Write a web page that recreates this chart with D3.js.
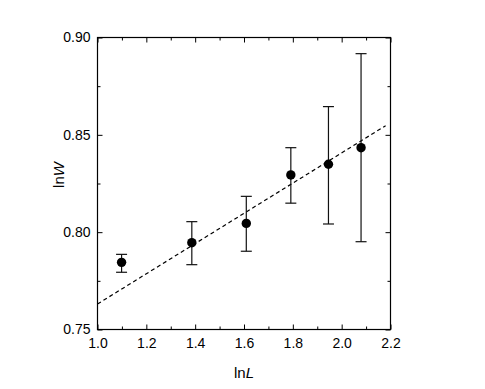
<!DOCTYPE html>
<html>
<head>
<meta charset="utf-8">
<script src="https://cdn.jsdelivr.net/npm/d3@7"></script>
<style>
  body { margin: 0; background: #fff; }
  text { font-family: "Liberation Sans", Arial, sans-serif; }
</style>
</head>
<body>
<div class="wrap"></div>
<script>
var width = 485, height = 389;

// data
var lnL   = [1.0986, 1.3863, 1.6094, 1.7918, 1.9459, 2.0794];
var lnW   = [0.7845, 0.7946, 0.8045, 0.8294, 0.8349, 0.8434];
var errLo = [0.7794, 0.7833, 0.7902, 0.8149, 0.8042, 0.7951];
var errHi = [0.7886, 0.8054, 0.8184, 0.8434, 0.8645, 0.8917];
var fitX  = [1.0, 2.18];
var fitY  = [0.7631, 0.8547];
var xTicks = [1.0, 1.2, 1.4, 1.6, 1.8, 2.0, 2.2];
var yTicks = [0.75, 0.80, 0.85, 0.90];

var plot = {left: 97.5, right: 390.5, top: 37.5, bottom: 329.5};

var svg = d3.select(".wrap").append("svg")
    .attr("width", width)
    .attr("height", height);

var x = d3.scaleLinear().domain([1.0, 2.2]).range([plot.left, plot.right]);
var y = d3.scaleLinear().domain([0.75, 0.90]).range([plot.bottom, plot.top]);

var xMinor = d3.range(1.1, 2.2, 0.2);
var yMinor = d3.range(0.775, 0.9, 0.05);

function cleanAxis(g) {
    g.select(".domain").remove();
    g.selectAll(".tick line").attr("stroke", "#000");
    g.selectAll(".tick text").attr("fill", "#000").style("font-size", "14px");
}

// bottom
svg.append("g")
    .attr("transform", "translate(0," + plot.bottom + ")")
    .call(d3.axisBottom(x).tickValues(xTicks).tickFormat(d3.format(".1f")).tickSize(-5).tickPadding(9))
    .call(cleanAxis);
svg.append("g")
    .attr("transform", "translate(0," + plot.bottom + ")")
    .call(d3.axisBottom(x).tickValues(xMinor).tickFormat("").tickSize(-3))
    .call(cleanAxis);
// top
svg.append("g")
    .attr("transform", "translate(0," + plot.top + ")")
    .call(d3.axisTop(x).tickValues(xTicks).tickFormat("").tickSize(-5))
    .call(cleanAxis);
svg.append("g")
    .attr("transform", "translate(0," + plot.top + ")")
    .call(d3.axisTop(x).tickValues(xMinor).tickFormat("").tickSize(-3))
    .call(cleanAxis);
// left
svg.append("g")
    .attr("transform", "translate(" + plot.left + ",0)")
    .call(d3.axisLeft(y).tickValues(yTicks).tickFormat(d3.format(".2f")).tickSize(-5).tickPadding(7))
    .call(cleanAxis);
svg.append("g")
    .attr("transform", "translate(" + plot.left + ",0)")
    .call(d3.axisLeft(y).tickValues(yMinor).tickFormat("").tickSize(-3))
    .call(cleanAxis);
// right
svg.append("g")
    .attr("transform", "translate(" + plot.right + ",0)")
    .call(d3.axisRight(y).tickValues(yTicks).tickFormat("").tickSize(-5))
    .call(cleanAxis);
svg.append("g")
    .attr("transform", "translate(" + plot.right + ",0)")
    .call(d3.axisRight(y).tickValues(yMinor).tickFormat("").tickSize(-3))
    .call(cleanAxis);

// frame
svg.append("rect")
    .attr("x", plot.left)
    .attr("y", plot.top)
    .attr("width", plot.right - plot.left)
    .attr("height", plot.bottom - plot.top)
    .attr("fill", "none")
    .attr("stroke", "#000")
    .attr("stroke-width", 1.2);

// fit line
var line = d3.line()
    .x(function(d) { return x(d[0]); })
    .y(function(d) { return y(d[1]); });
svg.append("path")
    .datum(d3.zip(fitX, fitY))
    .attr("d", line)
    .attr("fill", "none")
    .attr("stroke", "#000")
    .attr("stroke-width", 1.2)
    .attr("stroke-dasharray", "4,3");

// error bars
var pts = lnL.map(function(d, i) {
    return {x: d, y: lnW[i], lo: errLo[i], hi: errHi[i]};
});
var cap = 5.5;
var eb = svg.append("g").attr("stroke", "#111").attr("stroke-width", 1.2);
eb.selectAll("line.v").data(pts).enter().append("line")
    .attr("x1", function(d) { return x(d.x); })
    .attr("x2", function(d) { return x(d.x); })
    .attr("y1", function(d) { return y(d.lo); })
    .attr("y2", function(d) { return y(d.hi); });
eb.selectAll("line.t").data(pts).enter().append("line")
    .attr("x1", function(d) { return x(d.x) - cap; })
    .attr("x2", function(d) { return x(d.x) + cap; })
    .attr("y1", function(d) { return y(d.hi); })
    .attr("y2", function(d) { return y(d.hi); });
eb.selectAll("line.b").data(pts).enter().append("line")
    .attr("x1", function(d) { return x(d.x) - cap; })
    .attr("x2", function(d) { return x(d.x) + cap; })
    .attr("y1", function(d) { return y(d.lo); })
    .attr("y2", function(d) { return y(d.lo); });

svg.append("g").selectAll("circle").data(pts).enter().append("circle")
    .attr("cx", function(d) { return x(d.x); })
    .attr("cy", function(d) { return y(d.y); })
    .attr("r", 4.7)
    .attr("fill", "#000");

// axis titles
var xt = svg.append("text")
    .attr("x", (plot.left + plot.right) / 2)
    .attr("y", 378)
    .attr("text-anchor", "middle")
    .style("font-size", "15px");
xt.append("tspan").text("ln");
xt.append("tspan").attr("font-style", "italic").text("L");

var yt = svg.append("text")
    .attr("transform", "translate(64,175) rotate(-90)")
    .attr("text-anchor", "middle")
    .style("font-size", "15px");
yt.append("tspan").text("ln");
yt.append("tspan").attr("font-style", "italic").text("W");
</script>
</body>
</html>
